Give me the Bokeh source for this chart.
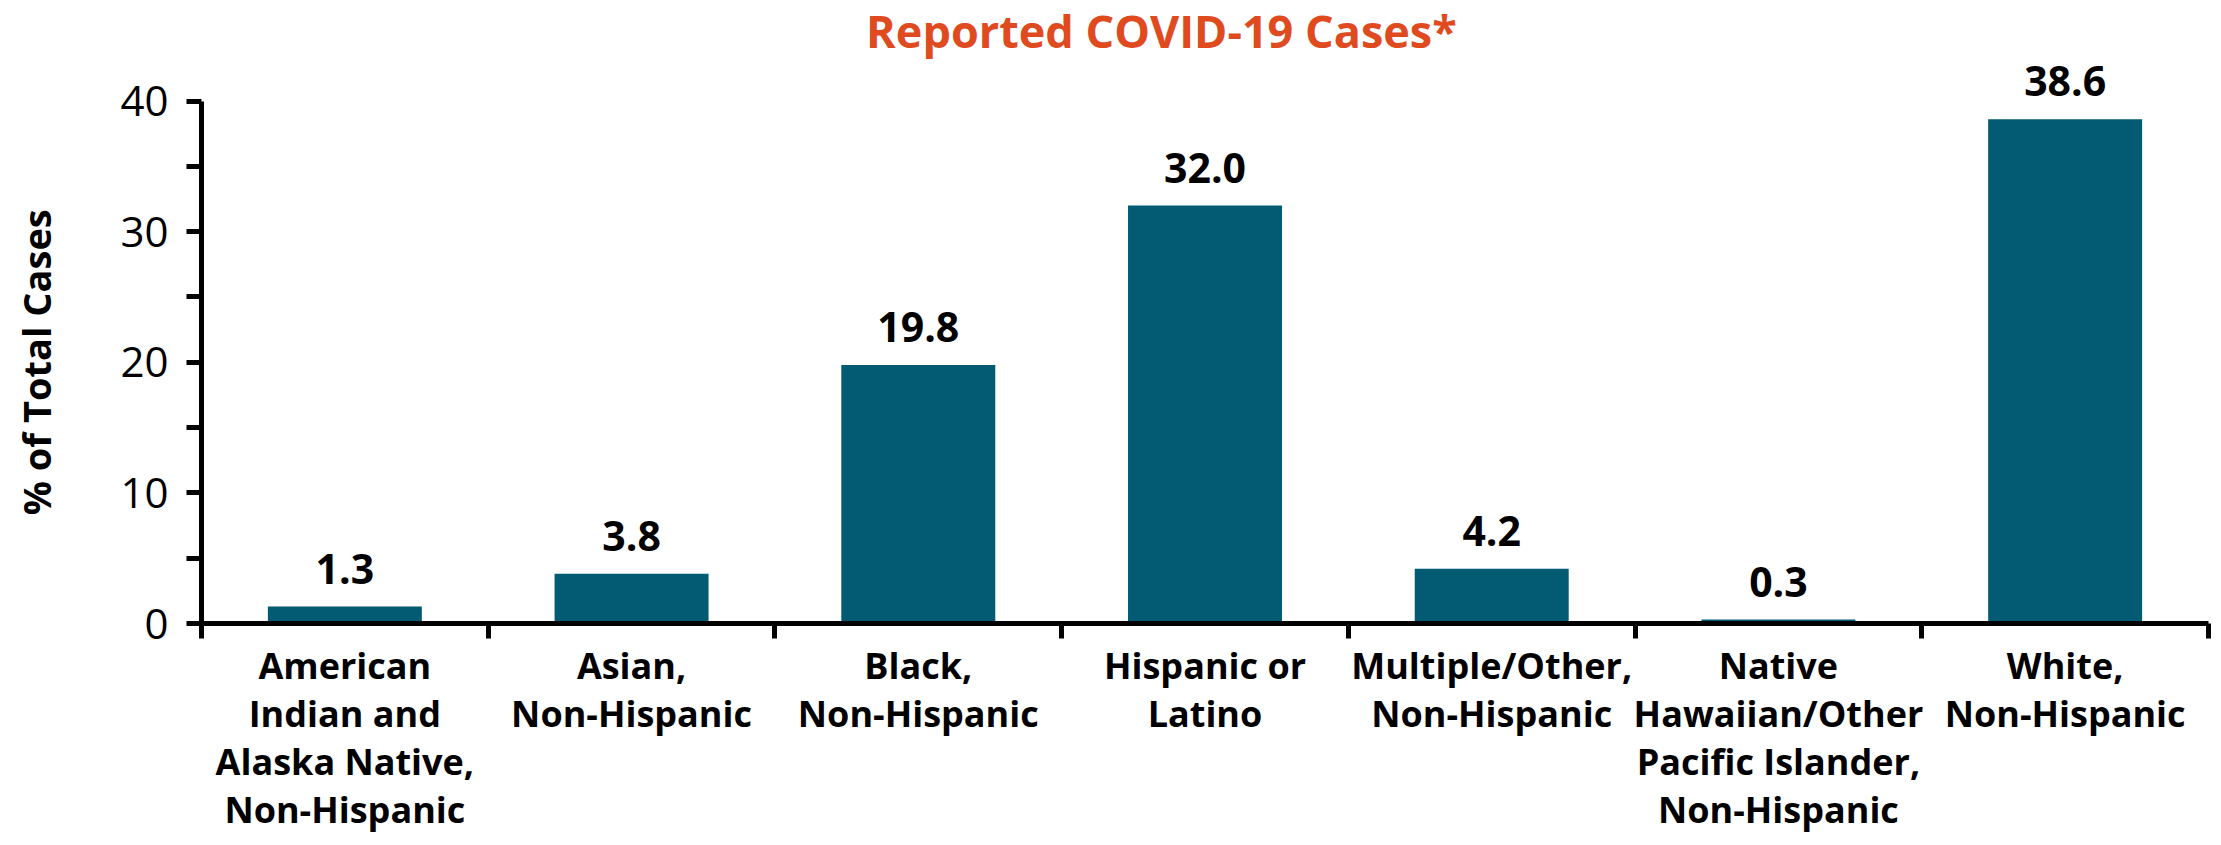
from bokeh.plotting import figure
from bokeh.layouts import row
from bokeh.models import Range1d, FixedTicker, ColumnDataSource, Label
from bokeh.core.properties import value
from bokeh.embed import file_html
from bokeh.resources import INLINE
import math

# Share of reported COVID-19 cases by race/ethnicity (%)
categories = [
    "American\nIndian and\nAlaska Native,\nNon-Hispanic",
    "Asian,\nNon-Hispanic",
    "Black,\nNon-Hispanic",
    "Hispanic or\nLatino",
    "Multiple/Other,\nNon-Hispanic",
    "Native\nHawaiian/Other\nPacific Islander,\nNon-Hispanic",
    "White,\nNon-Hispanic",
]
percent_of_cases = [1.3, 3.8, 19.8, 32.0, 4.2, 0.3, 38.6]
y_ticks = [0, 10, 20, 30, 40]
y_minor_ticks = [5, 15, 25, 35]

BAR_COLOR = "#025A73"
TITLE_COLOR = "#E04A1F"
FONT = "Open Sans"
LABEL_STRIP = 70          # width of the strip holding the y-axis title
BOTTOM = 222              # room for the category labels

n = len(categories)
centers = [i + 0.5 for i in range(n)]
source = ColumnDataSource(dict(
    x=centers,
    pct=percent_of_cases,
    label=[f"{v:.1f}" for v in percent_of_cases],
))

y_range = Range1d(0, 47.7)

# ---- main chart -------------------------------------------------------
p = figure(
    width=2221 - LABEL_STRIP, height=845,
    x_range=Range1d(0, n), y_range=y_range,
    output_backend="svg", toolbar_location=None,
    min_border_left=201 - LABEL_STRIP, min_border_right=13,
    min_border_top=0, min_border_bottom=BOTTOM,
)
p.outline_line_color = None
p.grid.visible = False
p.background_fill_color = "white"
p.border_fill_color = "white"

p.vbar(x="x", top="pct", width=0.537, bottom=0, source=source,
       fill_color=BAR_COLOR, line_color=None)

# value labels floating above each bar
p.text(x="x", y="pct", text="label", source=source,
       text_align="center", text_baseline="alphabetic", y_offset=-38,
       text_font=value(FONT), text_font_style="bold",
       text_font_size="41px", text_color="black")

# x axis: category names centred under bars, tick marks on the boundaries
xa = p.xaxis[0]
xa.ticker = FixedTicker(ticks=centers, minor_ticks=list(range(n + 1)))
xa.major_label_overrides = {c: cat for c, cat in zip(centers, categories)}
xa.axis_line_width = 5
xa.axis_line_color = "black"
xa.major_tick_out = 0
xa.major_tick_in = 0
xa.minor_tick_out = 15
xa.minor_tick_in = 0
xa.minor_tick_line_width = 5
xa.minor_tick_line_color = "black"
xa.major_label_standoff = 2
xa.major_label_text_font = FONT
xa.major_label_text_font_style = "bold"
xa.major_label_text_font_size = "36px"
xa.major_label_text_color = "black"
xa.major_label_text_line_height = 0.98

# y axis
ya = p.yaxis[0]
ya.ticker = FixedTicker(ticks=y_ticks, minor_ticks=y_minor_ticks)
ya.bounds = (y_ticks[0], y_ticks[-1])
ya.axis_line_width = 5
ya.axis_line_color = "black"
ya.major_tick_out = 15
ya.major_tick_in = 0
ya.major_tick_line_width = 5
ya.minor_tick_out = 15
ya.minor_tick_in = 0
ya.minor_tick_line_width = 5
ya.minor_tick_line_color = "black"
ya.major_label_standoff = 18
ya.major_label_text_font = FONT
ya.major_label_text_font_size = "42px"
ya.major_label_text_color = "black"

title = Label(x=3.348, y=45.4, text="Reported COVID-19 Cases*",
              text_align="center", text_baseline="alphabetic",
              text_font=FONT, text_font_style="bold",
              text_font_size="45px", text_color=TITLE_COLOR)
p.add_layout(title)

# ---- y-axis title, centred on the 0-40 axis line ------------------------
side = figure(
    width=LABEL_STRIP, height=845,
    x_range=Range1d(0, 1), y_range=y_range,
    x_axis_type=None, y_axis_type=None,
    output_backend="svg", toolbar_location=None,
    min_border_left=0, min_border_right=0,
    min_border_top=0, min_border_bottom=BOTTOM,
)
side.outline_line_color = None
side.grid.visible = False
side.border_fill_color = "white"
side.text(x=[0.5], y=[(y_ticks[0] + y_ticks[-1]) / 2], text=["% of Total Cases"],
          angle=math.pi / 2, text_align="center", text_baseline="middle",
          text_font=value(FONT), text_font_style="bold",
          text_font_size="38px", text_color="black")

layout = row(side, p, spacing=0)
open("out.html", "w").write(file_html(layout, INLINE))
